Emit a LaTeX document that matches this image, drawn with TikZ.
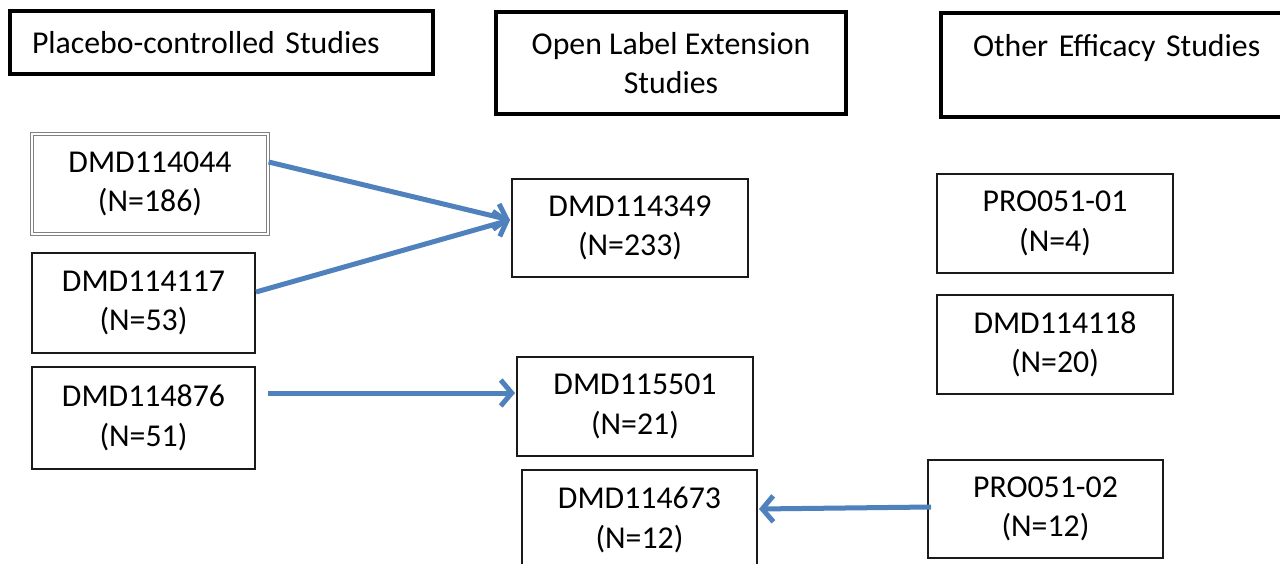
\documentclass[tikz,border=0pt]{standalone}
\usepackage{fontspec}
\setmainfont{Carlito}
\usetikzlibrary{arrows.meta,calc}
\definecolor{arrowblue}{HTML}{4F81BD}
\definecolor{boxline}{HTML}{1A1A1A}
\begin{document}
\begin{tikzpicture}[x=1pt,y=-1pt,
  every node/.style={font=\fontsize{31.8}{39.5}\selectfont, text=black},
  header/.style={draw=black, line width=4pt, inner sep=0pt, align=center},
  study/.style={draw=boxline, line width=2pt, inner sep=0pt, align=center},
  grayone/.style={draw=gray, double=white, double distance=1.2pt, line width=1.2pt, inner sep=0pt, align=center},
  flow/.style={draw=arrowblue, line width=5pt, -{Straight Barb[length=11pt,width=26pt]}}
]
\useasboundingbox[fill=white] (0,0) rectangle (1280,564);

% headers
\node[header, minimum width=423pt, minimum height=63pt, text width=379pt, align=left] (h1) at (221.5,42.5) {Placebo-controlled Studies};
\node[header, minimum width=350pt, minimum height=102pt] (h2) at (671,63) {Open Label Extension\\Studies};
\node[header, anchor=west, minimum height=104pt, inner xsep=32pt, text width=330pt, align=left] (h3) at (939,65) {Other Efficacy Studies\\~};

% placebo-controlled
\node[grayone, minimum width=236pt, minimum height=100pt] (b1) at (150,184) {DMD114044\\(N=186)};
\node[study, minimum width=223pt, minimum height=100pt] (b2) at (143.5,303) {DMD114117\\(N=53)};
\node[study, minimum width=223pt, minimum height=102pt] (b3) at (143.5,418) {DMD114876\\(N=51)};

% open label
\node[study, minimum width=236pt, minimum height=98pt] (b4) at (630,228) {DMD114349\\(N=233)};
\node[study, minimum width=236pt, minimum height=99pt] (b5) at (635,406.5) {DMD115501\\(N=21)};
\node[study, minimum width=235pt, minimum height=100pt] (b6) at (639.5,520) {DMD114673\\(N=12)};

% other efficacy
\node[study, minimum width=236pt, minimum height=99pt] (b7) at (1055,223.5) {PRO051-01\\(N=4)};
\node[study, minimum width=236pt, minimum height=99pt] (b8) at (1055,344.5) {DMD114118\\(N=20)};
\node[study, minimum width=235pt, minimum height=98pt] (b9) at (1045.5,509) {PRO051-02\\(N=12)};

% connectors
\draw[flow] ($(b1.east)+(0,-22)$) -- ($(b4.west)+(-1,-8)$);
\draw[flow] ($(b2.east)+(0,-11)$) -- ($(b4.west)+(-1,-8)$);
\draw[flow] ($(b3.east)+(12,-25)$) -- ($(b5.west)+(-1,-13.5)$);
\draw[flow] ($(b9.west)+(4,-2)$) -- ($(b6.east)+(1,-11)$);
\end{tikzpicture}
\end{document}
